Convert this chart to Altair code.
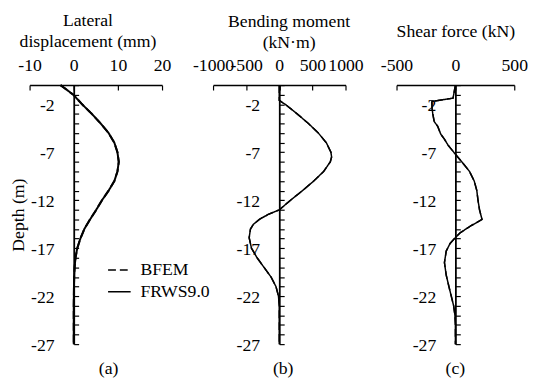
import altair as alt
import pandas as pd

# ---------------- data ----------------
series_names = ["BFEM", "FRWS9.0"]

# (a) lateral displacement (mm)
depth_a = [0, 1, 2, 3, 4, 5, 6, 7, 8, 9, 10, 11, 12, 13, 14, 15, 16, 17, 18, 19, 20, 21, 23, 25, 27]
disp_frws = [-3.0, -0.1, 1.9, 4.1, 6.1, 7.9, 9.2, 9.9, 10.2, 9.9, 9.2, 7.9, 6.4, 5.1, 3.7, 2.4, 1.5, 0.8, 0.4, 0.2, 0.1, 0.05, 0.0, 0.0, 0.0]
disp_bfem = [-3.0, -0.1, 1.9, 4.1, 6.1, 7.9, 9.2, 9.9, 10.2, 9.9, 9.2, 7.9, 6.4, 5.1, 3.7, 2.4, 1.5, 0.8, 0.4, 0.2, 0.1, 0.05, 0.0, 0.0, 0.0]

# (b) bending moment (kN·m)
depth_b = [0, 1, 1.6, 2, 3, 4, 5, 6, 7, 7.5, 8, 9, 10, 11, 12, 13, 13.5, 14, 14.5, 15, 15.9, 17, 18, 19, 20, 21, 22, 23, 25, 27]
moment_frws = [0, 0, 0, 90, 270, 440, 590, 710, 780, 790, 770, 670, 520, 350, 170, 0, -175, -300, -390, -435, -455, -420, -335, -230, -125, -50, -12, 0, 0, 0]
moment_bfem = [0, 0, 0, 90, 270, 440, 590, 710, 780, 790, 770, 670, 520, 350, 170, 0, -175, -300, -390, -435, -455, -420, -335, -230, -125, -50, -12, 0, 0, 0]

# (c) shear force (kN)
depth_c = [0, 1.36, 1.7, 2.4, 3, 3.8, 4.3, 5.1, 5.6, 6.3, 7.2, 8, 9, 10, 11, 12, 13, 14, 14.7, 15.4, 15.9, 16.5, 17.3, 18.5, 19.8, 21, 22, 23, 24, 25, 27]
shear_frws = [0, -20, -200, -198, -192, -180, -150, -125, -95, -60, 0, 55, 120, 160, 182, 192, 205, 226, 127, 40, 0, -45, -78, -93, -78, -55, -35, -15, -4, 0, 0]
shear_bfem = [0, -20, -200, -198, -192, -180, -150, -125, -95, -60, 0, 55, 120, 160, 182, 192, 205, 226, 127, 40, 0, -45, -78, -93, -78, -55, -35, -15, -4, 0, 0]

y_label_values = [-2, -7, -12, -17, -22, -27]
y_tick_values = list(range(-27, 1))

FONT = "Liberation Serif"
FS = 18
PLOT_H = 264
LABEL_EXPR = "'' + datum.value"


def make_df(depths, bfem, frws):
    rows = []
    for name, vals in (("FRWS9.0", frws), ("BFEM", bfem)):
        for i, (d, v) in enumerate(zip(depths, vals)):
            rows.append({"depth": -d, "value": v, "series": name, "idx": i})
    return pd.DataFrame(rows)


def panel(df, domain, width, xvals, title, title_x, title_y, sub, sub_dx,
          ytitle=None, show_legend=False, sw=1.5):
    zero_px = (0 - domain[0]) / (domain[1] - domain[0]) * width
    xscale = alt.Scale(domain=domain, nice=False, zero=False)
    yscale = alt.Scale(domain=[-27, 0], nice=False, zero=False)

    if show_legend:
        leg = alt.Legend(title=None, orient="none", legendX=79, legendY=176,
                         symbolType="stroke", symbolSize=529, symbolStrokeWidth=1.5,
                         symbolStrokeColor="black", labelFont=FONT, labelFontSize=FS,
                         labelColor="black", labelOffset=9, rowPadding=0, padding=0)
    else:
        leg = None

    yaxis_kwargs = dict(orient="left", offset=-zero_px, values=y_label_values, ticks=False,
                        tickSize=0, domain=False, grid=False, labelPadding=20, labelOffset=1.5,
                        labelFont=FONT, labelFontSize=FS, labelColor="black",
                        labelExpr=LABEL_EXPR)
    if ytitle:
        yaxis_kwargs.update(title=ytitle, titleFont=FONT, titleFontSize=FS,
                            titleFontWeight="normal", titleColor="black", titlePadding=3)
    else:
        yaxis_kwargs.update(title=None)

    lines = alt.Chart(df).mark_line(color="black", strokeWidth=sw).encode(
        x=alt.X("value:Q", scale=xscale,
                axis=alt.Axis(orient="top", values=xvals, ticks=False, tickSize=0, domain=False,
                              grid=False, labelFlush=False, labelOverlap=False, labelPadding=11,
                              labelFont=FONT, labelFontSize=FS, labelColor="black",
                              labelExpr=LABEL_EXPR,
                              title=title, titleFont=FONT, titleFontSize=FS,
                              titleFontWeight="normal", titleColor="black",
                              titleLineHeight=22, titleBaseline="alphabetic",
                              titleX=title_x, titleY=title_y)),
        y=alt.Y("depth:Q", scale=yscale, axis=alt.Axis(**yaxis_kwargs)),
        strokeDash=alt.StrokeDash("series:N",
                                  scale=alt.Scale(domain=series_names, range=[[8, 4], [1, 0]]),
                                  legend=leg),
        order=alt.Order("idx:Q"),
    )

    ticks = alt.Chart(df).mark_line(opacity=0).encode(
        x=alt.X("value:Q", scale=xscale,
                axis=alt.Axis(orient="bottom", offset=-PLOT_H, values=xvals, labels=False,
                              ticks=True, tickSize=5, tickColor="black", tickWidth=1.2,
                              domain=True, domainColor="black", domainWidth=1.5,
                              grid=False, title=None)),
        y=alt.Y("depth:Q", scale=yscale,
                axis=alt.Axis(orient="right", offset=-(width - zero_px), values=y_tick_values,
                              labels=False, ticks=True, tickSize=5, tickColor="black",
                              tickWidth=1.2, domain=True, domainColor="black",
                              domainWidth=1.8, grid=False, title=None)),
        detail="series:N",
        order=alt.Order("idx:Q"),
    )

    return alt.layer(lines, ticks).resolve_axis(x="independent", y="independent").properties(
        width=width, height=PLOT_H,
        title=alt.TitleParams(sub, orient="bottom", font=FONT, fontSize=FS,
                              fontWeight="normal", color="black", offset=6, dx=sub_dx),
    )


df_a = make_df(depth_a, disp_bfem, disp_frws)
df_b = make_df(depth_b, moment_bfem, moment_frws)
df_c = make_df(depth_c, shear_bfem, shear_frws)

pa = panel(df_a, [-10, 20], 135, [-10, 0, 10, 20], ["Lateral", "displacement (mm)"], 59, -61,
           "(a)", 13, ytitle="Depth (m)", show_legend=True, sw=2)
pb = panel(df_b, [-1000, 1000], 135, [-1000, -500, 0, 500, 1000], ["Bending moment", "(kN·m)"], 77,
           -60, "(b)", 4)
pc = panel(df_c, [-500, 500], 120, [-500, 0, 500], "Shear force (kN)", 60, -50, "(c)", 0)

chart = alt.hconcat(pa, pb, pc, spacing=52, bounds="flush").resolve_scale(
    strokeDash="independent").resolve_legend(strokeDash="independent").configure_view(
    stroke=None).properties(padding={"left": 2, "top": 0, "right": 0, "bottom": 0})

chart.save("out.html", embed_options={"renderer": "svg", "actions": False})
